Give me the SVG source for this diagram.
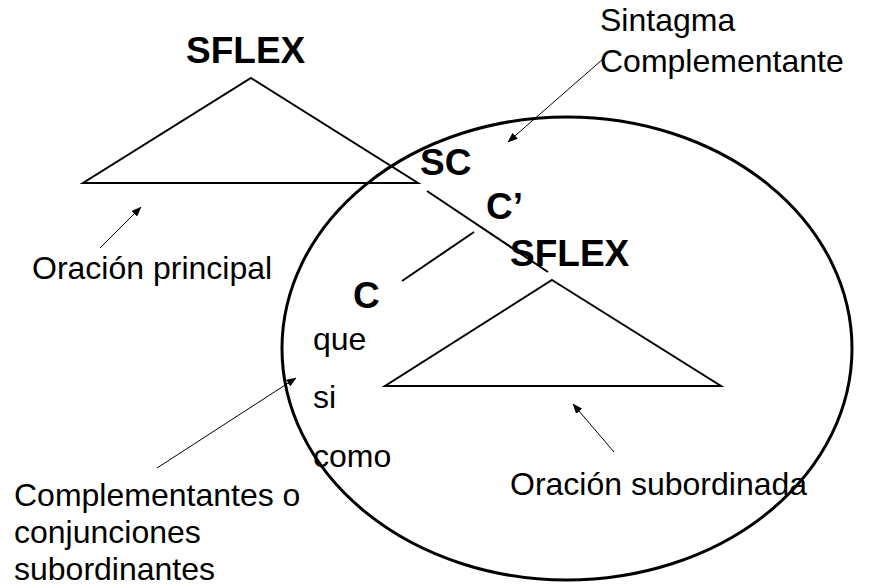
<svg xmlns="http://www.w3.org/2000/svg" width="874" height="587" viewBox="0 0 874 587">
<style>
.t{font-family:"Liberation Sans",Arial,sans-serif;font-size:32px;fill:#000}
.b{font-family:"Liberation Sans",Arial,sans-serif;font-size:37px;font-weight:bold;fill:#000}
.tri{fill:none;stroke:#000;stroke-width:2}
.br{fill:none;stroke:#000;stroke-width:2}
.ar{fill:none;stroke:#000;stroke-width:1;marker-end:url(#ah)}
</style>
<defs>
<marker id="ah" markerUnits="userSpaceOnUse" markerWidth="10" markerHeight="8" refX="9.5" refY="4" orient="auto">
<path d="M0,0 L10,4 L0,8 Z" fill="#000"/>
</marker>
</defs>
<rect width="874" height="587" fill="#fff"/>
<g id="circle-sc">
<ellipse cx="567" cy="348.5" rx="285" ry="231.5" fill="none" stroke="#000" stroke-width="3"/>
</g>
<g id="sflex-main">
<text class="b" x="186" y="63">SFLEX</text>
<polygon class="tri" points="251,78 418,183 83,183"/>
</g>
<g id="sc"><text class="b" x="420" y="175">SC</text></g>
<g id="cbar"><text class="b" x="486" y="219">C’</text></g>
<g id="sflex-sub">
<text class="b" x="510" y="266">SFLEX</text>
<polygon class="tri" points="552,280 721,386 385,386"/>
</g>
<g id="c"><text class="b" x="353" y="308">C</text></g>
<g id="conj-list">
<text class="t" x="313" y="350">que</text>
<text class="t" x="313" y="408">si</text>
<text class="t" x="313" y="467">como</text>
</g>
<g id="label-sc">
<text class="t" x="600" y="31">Sintagma</text>
<text class="t" x="600" y="72">Complementante</text>
</g>
<g id="label-principal"><text class="t" x="32" y="279">Oración principal</text></g>
<g id="label-subordinada"><text class="t" x="510" y="495">Oración subordinada</text></g>
<g id="label-complementantes">
<text class="t" x="14" y="506">Complementantes o</text>
<text class="t" x="14" y="543">conjunciones</text>
<text class="t" x="14" y="580">subordinantes</text>
</g>
<g id="connectors">
<line class="br" x1="427" y1="191" x2="548" y2="272"/>
<line class="br" x1="474" y1="232" x2="402" y2="281"/>
<line class="ar" x1="603" y1="59" x2="508" y2="142"/>
<line class="ar" x1="100" y1="248" x2="141" y2="207"/>
<line class="ar" x1="157" y1="468" x2="296" y2="378"/>
<line class="ar" x1="614" y1="452" x2="573" y2="404"/>
</g>
</svg>
